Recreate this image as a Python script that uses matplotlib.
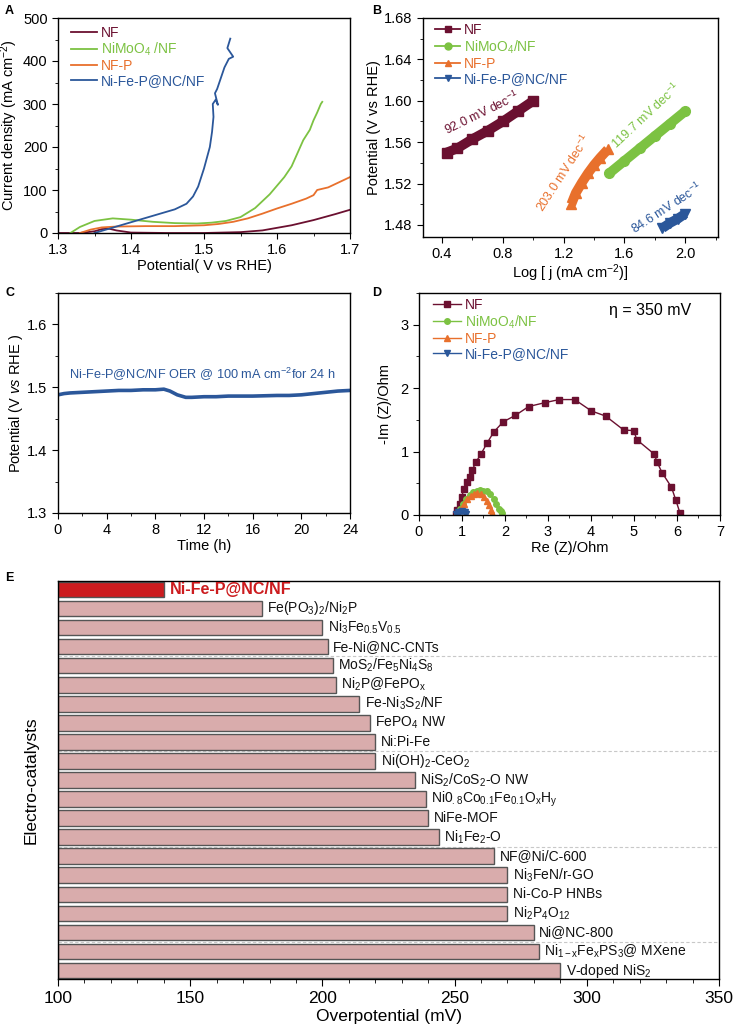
import numpy as np
import matplotlib
matplotlib.use("Agg")
import matplotlib.pyplot as plt
from matplotlib.lines import Line2D
from matplotlib.ticker import MultipleLocator, FormatStrFormatter

plt.rcParams['font.family'] = ['Liberation Sans', 'DejaVu Sans']
plt.rcParams['mathtext.fontset'] = 'custom'
plt.rcParams['mathtext.rm'] = 'Liberation Sans'
plt.rcParams['mathtext.it'] = 'Liberation Sans:italic'
plt.rcParams['mathtext.default'] = 'regular'
plt.rcParams['axes.linewidth'] = 1.0

NARROW = ['Liberation Sans Narrow', 'Liberation Sans', 'DejaVu Sans']

# colours
C_NF = '#6b1030'
C_MO = '#7cc242'
C_NFP = '#e8702c'
C_NI = '#2b579a'

# ---- panel A: LSV curves
a_nf_v = [1.30, 1.33, 1.35, 1.36, 1.37, 1.38, 1.40, 1.45, 1.50, 1.55, 1.58, 1.60, 1.62, 1.65, 1.68, 1.70]
a_nf_j = [0, 0, 4, 9, 10, 6, 1, 0, 0, 2, 6, 12, 18, 30, 44, 54]
a_mo_v = [1.317, 1.33, 1.35, 1.375, 1.40, 1.43, 1.46, 1.49, 1.51, 1.53, 1.55, 1.57, 1.59, 1.60,
          1.61, 1.62, 1.636, 1.645, 1.65, 1.655, 1.66, 1.662]
a_mo_j = [0, 14, 28, 34, 31, 26, 23, 22, 24, 28, 37, 58, 90, 110, 130, 155, 216, 240, 262, 280, 300, 305]
a_nfp_v = [1.33, 1.345, 1.36, 1.38, 1.42, 1.46, 1.50, 1.52, 1.54, 1.56, 1.58, 1.60, 1.62, 1.64,
           1.65, 1.655, 1.67, 1.69, 1.70]
a_nfp_j = [0, 8, 13, 15, 16, 16, 18, 21, 26, 34, 45, 57, 68, 80, 88, 100, 106, 122, 130]
a_ni_v = [1.350, 1.370, 1.400, 1.430, 1.460, 1.476, 1.485, 1.492, 1.500, 1.508, 1.511, 1.513, 1.512,
          1.516, 1.519, 1.515, 1.518, 1.522, 1.528, 1.534, 1.540, 1.532, 1.536]
a_ni_j = [0, 10, 25, 40, 55, 68, 85, 108, 150, 200, 235, 270, 300, 310, 298, 325, 335, 355, 385, 405,
          410, 430, 452]

# ---- panel B: Tafel
b_nf_x = [0.43, 0.50, 0.60, 0.70, 0.80, 0.90, 1.00]
b_nf_y = [1.550, 1.554, 1.563, 1.571, 1.580, 1.590, 1.600]
b_mo_x = [1.50, 1.60, 1.70, 1.80, 1.90, 2.00]
b_mo_y = [1.530, 1.542, 1.554, 1.566, 1.578, 1.590]
b_nfp_x = [1.25, 1.28, 1.32, 1.36, 1.40, 1.44, 1.49]
b_nfp_y = [1.500, 1.511, 1.521, 1.530, 1.538, 1.545, 1.553]
b_ni_x = [1.85, 1.90, 1.95, 2.00]
b_ni_y = [1.477, 1.482, 1.486, 1.491]

# ---- panel C: stability
c_t = [0, 0.5, 1, 2, 3, 4, 5, 6, 7, 8, 8.7, 9.2, 9.8, 10.5, 11, 12, 13, 14, 16, 18, 19, 20, 21, 22, 23, 24]
c_e = [1.488, 1.490, 1.491, 1.492, 1.493, 1.494, 1.495, 1.495, 1.496, 1.496, 1.497, 1.494, 1.488, 1.484,
       1.484, 1.485, 1.485, 1.486, 1.486, 1.487, 1.487, 1.488, 1.490, 1.492, 1.494, 1.495]

# ---- panel D: Nyquist
d_nf_re = [0.85, 0.88, 0.95, 0.99, 1.05, 1.12, 1.18, 1.24, 1.32, 1.44, 1.58, 1.74, 1.96, 2.24, 2.55,
           2.92, 3.26, 3.62, 4.01, 4.34, 4.76, 5.00, 5.06, 5.47, 5.54, 5.65, 5.87, 5.97, 6.07]
d_nf_im = [0.02, 0.08, 0.18, 0.29, 0.41, 0.52, 0.60, 0.71, 0.83, 0.96, 1.13, 1.31, 1.47, 1.57, 1.71,
           1.77, 1.82, 1.82, 1.64, 1.56, 1.34, 1.33, 1.19, 0.96, 0.83, 0.67, 0.44, 0.24, 0.03]
d_mo_re = [0.88, 0.95, 1.02, 1.10, 1.18, 1.26, 1.34, 1.42, 1.50, 1.58, 1.66, 1.74, 1.80, 1.86, 1.90, 1.93]
d_mo_im = [0.02, 0.10, 0.18, 0.26, 0.32, 0.36, 0.38, 0.39, 0.38, 0.38, 0.33, 0.25, 0.17, 0.10, 0.06, 0.03]
d_nfp_re = [0.90, 0.97, 1.04, 1.12, 1.20, 1.28, 1.36, 1.44, 1.52, 1.58, 1.63, 1.67, 1.69]
d_nfp_im = [0.02, 0.10, 0.18, 0.25, 0.30, 0.33, 0.34, 0.33, 0.29, 0.22, 0.15, 0.08, 0.03]
d_ni_re = [0.85, 0.90, 0.95, 1.00, 1.05, 1.08, 1.10]
d_ni_im = [0.01, 0.04, 0.05, 0.06, 0.05, 0.04, 0.02]

# ---- panel E: overpotential comparison (top to bottom)
e_names = ['Ni-Fe-P@NC/NF', 'Fe(PO$_3$)$_2$/Ni$_2$P', 'Ni$_3$Fe$_{0.5}$V$_{0.5}$', 'Fe-Ni@NC-CNTs',
           'MoS$_2$/Fe$_5$Ni$_4$S$_8$', 'Ni$_2$P@FePO$_x$', 'Fe-Ni$_3$S$_2$/NF', 'FePO$_4$ NW', 'Ni:Pi-Fe',
           'Ni(OH)$_2$-CeO$_2$', 'NiS$_2$/CoS$_2$-O NW', 'Ni0$_{.8}$Co$_{0.1}$Fe$_{0.1}$O$_x$H$_y$',
           'NiFe-MOF', 'Ni$_1$Fe$_2$-O', 'NF@Ni/C-600', 'Ni$_3$FeN/r-GO', 'Ni-Co-P HNBs',
           'Ni$_2$P$_4$O$_{12}$', 'Ni@NC-800', 'Ni$_{1-x}$Fe$_x$PS$_3$@ MXene', 'V-doped NiS$_2$']
e_values = [140, 177, 200, 202, 204, 205, 214, 218, 220, 220, 235, 239, 240, 244, 265, 270, 270, 270,
            280, 282, 290]

LEG_COLORS = [C_NF, C_MO, C_NFP, C_NI]


def box(l, t, r, b):
    return [l / 736, 1 - b / 1033, (r - l) / 736, (b - t) / 1033]


def style(ax, fs=10):
    ax.tick_params(which='both', direction='out', top=False, right=False)
    ax.tick_params(which='major', length=4, labelsize=fs)
    ax.tick_params(which='minor', length=2.5)
    for lab in ax.get_xticklabels() + ax.get_yticklabels():
        lab.set_family(NARROW)


def legend(ax, handles, labels, anchor, hl):
    leg = ax.legend(handles, labels, loc='upper left', frameon=False, fontsize=10,
                    handlelength=hl, handletextpad=0.3, labelspacing=0.08,
                    borderpad=0, borderaxespad=0, bbox_to_anchor=anchor)
    for t, c in zip(leg.get_texts(), LEG_COLORS):
        t.set_color(c)


fig = plt.figure(figsize=(7.36, 10.33), dpi=100)

# ---------------- A
ax = fig.add_axes(box(58, 18, 350, 233))
ax.plot(a_nf_v, a_nf_j, color=C_NF, lw=1.3)
ax.plot(a_mo_v, a_mo_j, color=C_MO, lw=1.3)
ax.plot(a_nfp_v, a_nfp_j, color=C_NFP, lw=1.3)
ax.plot(a_ni_v, a_ni_j, color=C_NI, lw=1.3)
ax.set_xlim(1.3, 1.7)
ax.set_ylim(0, 500)
ax.xaxis.set_major_locator(MultipleLocator(0.1))
ax.xaxis.set_minor_locator(MultipleLocator(0.05))
ax.yaxis.set_major_locator(MultipleLocator(100))
ax.yaxis.set_minor_locator(MultipleLocator(50))
style(ax, 10.5)
ax.set_xlabel('Potential( V vs RHE)', fontsize=10.5, family=NARROW, labelpad=1)
ax.set_ylabel('Current density (mA cm$^{-2}$)', fontsize=10.5, labelpad=2)
handles = [Line2D([], [], color=c, lw=1.3) for c in LEG_COLORS]
legend(ax, handles, ['NF', 'NiMoO$_4$ /NF', 'NF-P', 'Ni-Fe-P@NC/NF'], (0.043, 0.965), 1.9)

# ---------------- B
ax = fig.add_axes(box(423, 18, 718, 237))
for xs, ys, c, m in [(b_nf_x, b_nf_y, C_NF, 's'), (b_mo_x, b_mo_y, C_MO, 'o'),
                     (b_nfp_x, b_nfp_y, C_NFP, '^'), (b_ni_x, b_ni_y, C_NI, 'v')]:
    ax.plot(xs, ys, color=c, lw=7, solid_capstyle='butt', marker=m, ms=7)
ax.set_xlim(0.275, 2.215)
ax.set_ylim(1.4684, 1.68)
ax.xaxis.set_major_locator(MultipleLocator(0.4))
ax.xaxis.set_minor_locator(MultipleLocator(0.2))
ax.yaxis.set_major_locator(MultipleLocator(0.04))
ax.yaxis.set_minor_locator(MultipleLocator(0.02))
ax.yaxis.set_major_formatter(FormatStrFormatter('%.2f'))
ax.xaxis.set_major_formatter(FormatStrFormatter('%.1f'))
style(ax, 10.5)
ax.set_xlabel('Log [ j (mA cm$^{-2}$)]', fontsize=10.5, family=NARROW, labelpad=1)
ax.set_ylabel('Potential (V vs RHE)', fontsize=10.5, labelpad=2)
handles = [Line2D([], [], color=c, marker=m, ms=5, lw=1.3)
           for c, m in zip(LEG_COLORS, ['s', 'o', '^', 'v'])]
legend(ax, handles, ['NF', 'NiMoO$_4$/NF', 'NF-P', 'Ni-Fe-P@NC/NF'], (0.041, 0.977), 1.8)
ax.text(0.66, 1.588, '92.0 mV dec$^{-1}$', color=C_NF, fontsize=9, rotation=26,
        ha='center', va='center')
ax.text(1.20, 1.530, '203.0 mV dec$^{-1}$', color=C_NFP, fontsize=9, rotation=57,
        ha='center', va='center')
ax.text(1.74, 1.585, '119.7 mV dec$^{-1}$', color=C_MO, fontsize=9, rotation=43,
        ha='center', va='center')
ax.text(1.88, 1.496, '84.6 mV dec$^{-1}$', color=C_NI, fontsize=9, rotation=33,
        ha='center', va='center')

# ---------------- C
ax = fig.add_axes(box(58, 293, 350, 513))
ax.plot(c_t, c_e, color=C_NI, lw=2.6)
ax.set_xlim(0, 24)
ax.set_ylim(1.3, 1.65)
ax.xaxis.set_major_locator(MultipleLocator(4))
ax.xaxis.set_minor_locator(MultipleLocator(2))
ax.yaxis.set_major_locator(MultipleLocator(0.1))
ax.yaxis.set_minor_locator(MultipleLocator(0.05))
style(ax, 10.5)
ax.set_xlabel('Time (h)', fontsize=10.5, family=NARROW, labelpad=1)
ax.set_ylabel('Potential (V $\\mathit{vs}$ RHE )', fontsize=10.5, labelpad=2)
ax.text(11.9, 1.521, 'Ni-Fe-P@NC/NF OER @ 100 mA cm$^{-2}$for 24 h', color=C_NI, fontsize=9.2,
        ha='center', va='center')

# ---------------- D
ax = fig.add_axes(box(419, 293, 720, 515))
ax.plot(d_nf_re, d_nf_im, color=C_NF, lw=1.0, marker='s', ms=3.8)
ax.plot(d_mo_re, d_mo_im, color=C_MO, lw=1.0, marker='o', ms=4)
ax.plot(d_nfp_re, d_nfp_im, color=C_NFP, lw=1.0, marker='^', ms=4)
ax.plot(d_ni_re, d_ni_im, color=C_NI, lw=1.0, marker='v', ms=5)
ax.set_xlim(0, 7)
ax.set_ylim(0, 3.5)
ax.xaxis.set_major_locator(MultipleLocator(1))
ax.xaxis.set_minor_locator(MultipleLocator(0.5))
ax.yaxis.set_major_locator(MultipleLocator(1))
ax.yaxis.set_minor_locator(MultipleLocator(0.5))
style(ax, 10.5)
ax.set_xlabel('Re (Z)/Ohm', fontsize=10.5, family=NARROW, labelpad=1)
ax.set_ylabel('-Im (Z)/Ohm', fontsize=10.5, labelpad=6)
handles = [Line2D([], [], color=c, marker=m, ms=4, lw=1.0)
           for c, m in zip(LEG_COLORS, ['s', 'o', '^', 'v'])]
legend(ax, handles, ['NF', 'NiMoO$_4$/NF', 'NF-P', 'Ni-Fe-P@NC/NF'], (0.047, 0.977), 2.0)
ax.text(0.63, 0.9, 'η = 350 mV', transform=ax.transAxes, fontsize=11.5)

# ---------------- E
ax = fig.add_axes(box(58, 581, 719, 979))
n = len(e_names)
ypos = np.arange(n, 0, -1)
colors = ['#cc1c1f'] + ['#d9acac'] * (n - 1)
for yline in [2.5, 7.5, 12.5, 17.5]:
    ax.axhline(yline, color='#c8c8c8', lw=0.8, ls=(0, (3, 2)), zorder=0)
ax.barh(ypos, np.array(e_values) - 100, left=100, height=0.82, color=colors,
        edgecolor='#555555', linewidth=1.0, zorder=2)
for i, (name, v) in enumerate(zip(e_names, e_values)):
    if i == 0:
        ax.text(v + 2.5, ypos[i], name, color='#cc1c1f', fontsize=11.6, fontweight='bold',
                va='center', ha='left')
    else:
        ax.text(v + 2.0, ypos[i], name, color='#111111', fontsize=10, va='center', ha='left')
ax.set_xlim(100, 350)
ax.set_ylim(0.56, n + 0.44)
ax.set_yticks([])
ax.xaxis.set_major_locator(MultipleLocator(50))
ax.xaxis.set_minor_locator(MultipleLocator(10))
ax.tick_params(which='both', direction='out', top=False)
ax.tick_params(which='major', length=5, labelsize=12.5)
ax.tick_params(which='minor', length=3)
ax.set_xlabel('Overpotential (mV)', fontsize=12.5, labelpad=2)
ax.set_ylabel('Electro-catalysts', fontsize=12.5, labelpad=14)

# panel letters
for x, y, s in [(5, 11, 'A'), (372, 11, 'B'), (5, 293, 'C'), (372, 293, 'D'), (5, 578, 'E')]:
    fig.text(x / 736, 1 - y / 1033, s, fontsize=9, fontweight='bold', va='center', ha='left')

fig.savefig('out.png', dpi=100)
